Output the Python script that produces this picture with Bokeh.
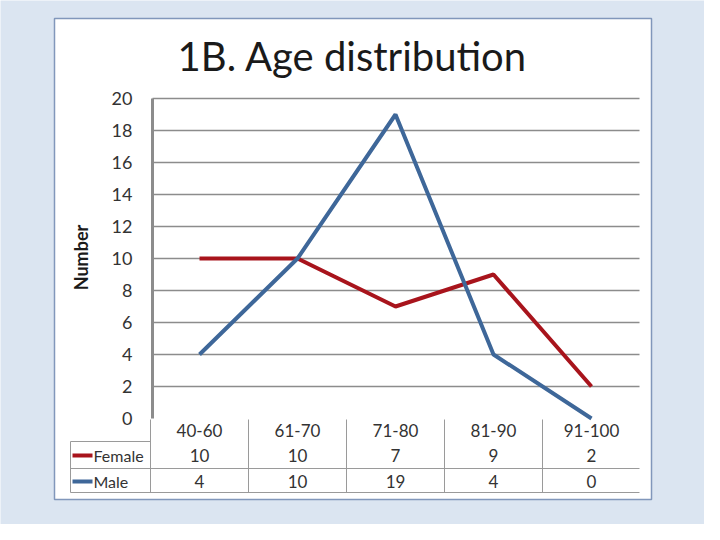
from math import pi

from bokeh.plotting import figure
from bokeh.models import Range1d
from bokeh.core.properties import value
from bokeh.embed import file_html
from bokeh.resources import INLINE

# ---------------- data ----------------
categories = ["40-60", "61-70", "71-80", "81-90", "91-100"]
female = [10, 10, 7, 9, 2]
male = [4, 10, 19, 4, 0]
y_ticks = [0, 2, 4, 6, 8, 10, 12, 14, 16, 18, 20]
series_names = ["Female", "Male"]
title_text = "1B. Age distribution"
y_label = "Number"

# ---------------- layout helpers ----------------
W, H = 704, 524
OX, OY = 158, 426          # page px of data origin
XPX, YPX = 98.0, 16.0      # px per category / per unit
PAGE = 8                   # page margin


def dx(px):
    return (px - OX) / XPX


def dy(py):
    return (OY - py) / YPX


FONT = value("Lato")
RED = "#a8141c"
BLUE = "#3e6799"
GRID = "#8c8c8c"
TXT = "#333333"

p = figure(
    width=W, height=H,
    x_range=Range1d(dx(PAGE), dx(PAGE + W)),
    y_range=Range1d(dy(PAGE + H), dy(PAGE)),
    output_backend="svg", toolbar_location=None,
    x_axis_location=None, y_axis_location=None,
    min_border=0,
)
p.grid.visible = False
p.outline_line_color = None
p.background_fill_color = "#dbe5f1"
p.border_fill_color = "#dbe5f1"

# white chart panel
p.quad(left=[dx(62)], right=[dx(659)], top=[dy(26)], bottom=[dy(507)],
       fill_color="white", line_color="#8197bb", line_width=1.5)

# title
p.text(x=[dx(360)], y=[dy(63)], text=[title_text], text_font=FONT,
       text_font_size="40px", text_align="center", text_baseline="middle",
       text_color="#1a1a1a")

# gridlines
grid_vals = [t for t in y_ticks if t > 0]
p.segment(x0=[dx(160)] * len(grid_vals), x1=[dx(647)] * len(grid_vals),
          y0=grid_vals, y1=grid_vals, line_color=GRID, line_width=1.3)

# vertical axis line
p.segment(x0=[dx(160)], x1=[dx(160)], y0=[y_ticks[0]], y1=[y_ticks[-1]],
          line_color=GRID, line_width=3)

# y tick labels
p.text(x=[dx(140)] * len(y_ticks), y=y_ticks, text=[str(t) for t in y_ticks],
       text_font=FONT, text_font_size="18px", text_align="right",
       text_baseline="middle", text_color=TXT)

# y axis title
p.text(x=[dx(88)], y=[dy(265)], text=[y_label], angle=pi / 2, text_font=FONT,
       text_font_size="18px", text_font_style="bold", text_align="center",
       text_baseline="middle", text_color="#1a1a1a")

# series lines
xs = [i + 0.5 for i in range(len(categories))]
p.line(xs, female, line_color=RED, line_width=4)
p.line(xs, male, line_color=BLUE, line_width=4)

# ---------------- data table ----------------
TL = "#9a9a9a"
row_hdr, row_f, row_m = dy(438), dy(463), dy(489)
n = len(categories)
# vertical cell lines
vx = list(range(n))
p.segment(x0=vx, x1=vx, y0=[dy(427)] * n, y1=[dy(500)] * n,
          line_color=TL, line_width=1)
# legend cell box
p.segment(x0=[dx(78), dx(78)], x1=[dx(78), dx(158)],
          y0=[dy(449), dy(449)], y1=[dy(500), dy(449)],
          line_color=TL, line_width=1)
# horizontal row lines
p.segment(x0=[dx(78), dx(78)], x1=[dx(647), dx(647)],
          y0=[dy(476), dy(500)], y1=[dy(476), dy(500)],
          line_color=TL, line_width=1)

p.text(x=xs, y=[row_hdr] * n, text=categories, text_font=FONT,
       text_font_size="17px", text_align="center", text_baseline="middle",
       text_color=TXT)
p.text(x=xs, y=[row_f] * n, text=[str(v) for v in female], text_font=FONT,
       text_font_size="17px", text_align="center", text_baseline="middle",
       text_color=TXT)
p.text(x=xs, y=[row_m] * n, text=[str(v) for v in male], text_font=FONT,
       text_font_size="17px", text_align="center", text_baseline="middle",
       text_color=TXT)

# legend keys
p.segment(x0=[dx(80), dx(80)], x1=[dx(100), dx(100)], y0=[row_f, row_m],
          y1=[row_f, row_m], line_color=[RED, BLUE], line_width=4)
p.text(x=[dx(101), dx(101)], y=[row_f, row_m], text=series_names,
       text_font=FONT, text_font_size="16px", text_align="left",
       text_baseline="middle", text_color=TXT)

open("out.html", "w").write(file_html(p, INLINE))
